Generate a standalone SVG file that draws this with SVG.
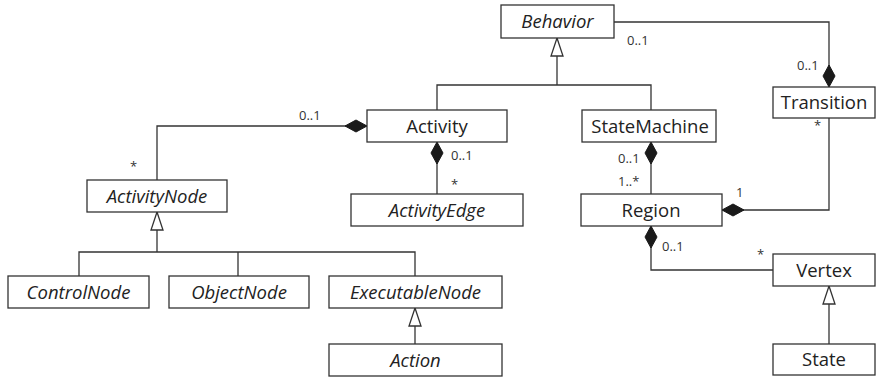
<svg xmlns="http://www.w3.org/2000/svg" width="877" height="379" viewBox="0 0 877 379">
<style>
.box{fill:#fff;stroke:#333;stroke-width:1.3}
.t{font-family:"Open Sans","Liberation Sans",sans-serif;font-size:18.5px;fill:#222;text-anchor:middle}
.i{font-style:italic}
.c{fill:none;stroke:#333;stroke-width:1.3}
.m{font-family:"Open Sans","Liberation Sans",sans-serif;font-size:13px;fill:#333}
.comp{marker-start:url(#dia)}
.gen{marker-start:url(#tri)}
</style>
<defs>
<marker id="dia" markerUnits="userSpaceOnUse" markerWidth="24" markerHeight="14" refX="0" refY="7" orient="auto" viewBox="0 0 24 14">
<path d="M0,7 L11,1 L22,7 L11,13 Z" fill="#1a1a1a" stroke="#1a1a1a" stroke-width="1"/>
</marker>
<marker id="tri" markerUnits="userSpaceOnUse" markerWidth="20" markerHeight="16" refX="1" refY="8" orient="auto" viewBox="0 0 20 16">
<path d="M1,8 L19,2 L19,14 Z" fill="#fff" stroke="#333" stroke-width="1.3"/>
</marker>
</defs>
<g id="connectors">
<path class="c gen" d="M557,38 V85"/>
<path class="c" d="M437,110 V85 H651 V110"/>
<path class="c comp" d="M829,87 V22 H614"/>
<path class="c comp" d="M367,126 H157 V180"/>
<path class="c comp" d="M437,142 V194"/>
<path class="c gen" d="M157,212 V252"/>
<path class="c" d="M79,276 V252 H415 V276 M238,252 V276"/>
<path class="c gen" d="M415,308 V344"/>
<path class="c comp" d="M651,142 V194"/>
<path class="c comp" d="M722,210 H829 V118"/>
<path class="c comp" d="M651,226 V270 H773"/>
<path class="c gen" d="M829,286 V344"/>
<text class="m" x="627" y="45">0..1</text>
<text class="m" x="797" y="70">0..1</text>
<text class="m" x="299" y="120">0..1</text>
<text class="m" x="130" y="171">*</text>
<text class="m" x="451" y="160">0..1</text>
<text class="m" x="451" y="189">*</text>
<text class="m" x="618" y="163">0..1</text>
<text class="m" x="618" y="186">1..*</text>
<text class="m" x="736" y="197">1</text>
<text class="m" x="814" y="130">*</text>
<text class="m" x="662" y="251">0..1</text>
<text class="m" x="757" y="259">*</text>
</g>
<g id="Behavior"><rect class="box" x="501" y="5" width="113" height="33"/><text class="t i" x="557.5" y="28">Behavior</text></g>
<g id="Transition"><rect class="box" x="773" y="87" width="102" height="31"/><text class="t" x="824" y="109">Transition</text></g>
<g id="Activity"><rect class="box" x="367" y="110" width="140" height="32"/><text class="t" x="437" y="133">Activity</text></g>
<g id="StateMachine"><rect class="box" x="582" y="110" width="134" height="32"/><text class="t" x="650" y="133">StateMachine</text></g>
<g id="ActivityNode"><rect class="box" x="87" y="180" width="140" height="32"/><text class="t i" x="157" y="203">ActivityNode</text></g>
<g id="ActivityEdge"><rect class="box" x="351" y="194" width="172" height="32"/><text class="t i" x="437" y="217">ActivityEdge</text></g>
<g id="Region"><rect class="box" x="581" y="194" width="141" height="32"/><text class="t" x="651" y="217">Region</text></g>
<g id="Vertex"><rect class="box" x="773" y="254" width="102" height="32"/><text class="t" x="824" y="277">Vertex</text></g>
<g id="ControlNode"><rect class="box" x="8" y="276" width="141" height="32"/><text class="t i" x="78.5" y="299">ControlNode</text></g>
<g id="ObjectNode"><rect class="box" x="169" y="276" width="140" height="32"/><text class="t i" x="239" y="299">ObjectNode</text></g>
<g id="ExecutableNode"><rect class="box" x="329" y="276" width="173" height="32"/><text class="t i" x="415.5" y="299">ExecutableNode</text></g>
<g id="Action"><rect class="box" x="329" y="344" width="173" height="32"/><text class="t i" x="415.5" y="367">Action</text></g>
<g id="State"><rect class="box" x="773" y="344" width="102" height="31"/><text class="t" x="824" y="366">State</text></g>
</svg>
